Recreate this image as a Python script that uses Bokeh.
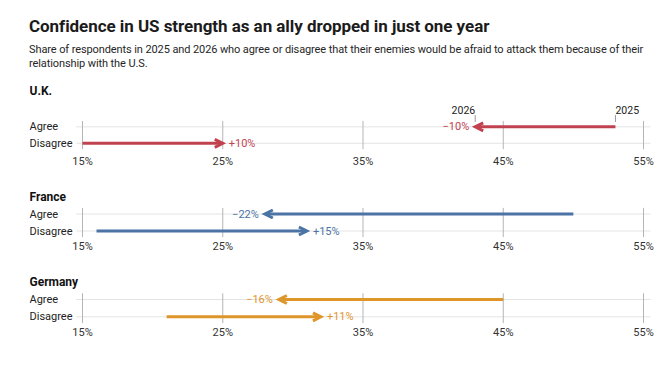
from bokeh.plotting import figure
from bokeh.models import (Div, Range1d, FixedTicker, PrintfTickFormatter,
                          Arrow, OpenHead, ColumnDataSource)
from bokeh.layouts import column
from bokeh.core.properties import value
from bokeh.embed import file_html
from bokeh.resources import INLINE

# ---------------- data ----------------
COUNTRIES = ["U.K.", "France", "Germany"]
RESPONSES = ["Agree", "Disagree"]
YEARS = ["2025", "2026"]
AGREE_2025 = [53, 50, 45]
AGREE_2026 = [43, 28, 29]
DISAGREE_2025 = [15, 16, 21]
DISAGREE_2026 = [25, 31, 32]
TICKS = [15, 25, 35, 45, 55]
COLORS = ["#c1424f", "#4b73a6", "#de962b"]

TITLE = "Confidence in US strength as an ally dropped in just one year"
SUB1 = ("Share of respondents in 2025 and 2026 who agree or disagree that their "
        "enemies would be afraid to attack them because of their")
SUB2 = "relationship with the U.S."

FONT = "Roboto"

# ---------------- layout constants ----------------
W = 658
BL, BR = 29, 5
FRAME_W = W - BL - BR
PX = 14.025                      # pixels per percentage point
X0 = TICKS[0] - (82 - 29) / PX   # frame left in data units
X1 = X0 + FRAME_W / PX

# per panel: (label row, min_border_top, frame height, min_border_bottom, standoff)
PANELS = [(-2.2, 4, 69, 24, 3), (-1.0, 13, 51, 21, 0), (-1.0, 13, 52, 21, 0)]

header = Div(
    text=(f'<div style="font-family:{FONT};white-space:nowrap;">'
          f'<div style="padding-top:16px;font-weight:700;font-size:17px;line-height:20px;'
          f'letter-spacing:-0.05px;color:#1b1b1b;">{TITLE}</div>'
          f'<div style="margin-top:7px;font-size:11px;line-height:13.5px;'
          f'letter-spacing:-0.1px;color:#262626;">{SUB1}<br>{SUB2}</div></div>'),
    width=W, height=78, margin=(0, 0, 0, 29))

figs = []
for i, country in enumerate(COUNTRIES):
    label_row, btop, fh, bbot, standoff = PANELS[i]
    col = COLORS[i]
    p = figure(width=W, height=btop + fh + bbot, output_backend="svg",
               toolbar_location=None, title=None,
               x_range=Range1d(X0, X1), y_range=Range1d(1.5, label_row - 0.5),
               y_axis_location=None, min_border_left=BL, min_border_right=BR,
               min_border_top=btop, min_border_bottom=bbot)
    p.outline_line_color = None
    p.grid.visible = False
    p.xaxis.ticker = FixedTicker(ticks=TICKS)
    p.xaxis.formatter = PrintfTickFormatter(format="%d%%")
    p.xaxis.axis_line_color = None
    p.xaxis.major_tick_line_color = None
    p.xaxis.minor_tick_line_color = None
    p.xaxis.major_tick_out = 0
    p.xaxis.major_label_standoff = standoff
    p.xaxis.major_label_text_font = FONT
    p.xaxis.major_label_text_font_size = "11px"
    p.xaxis.major_label_text_color = "#333333"

    rows = [RESPONSES.index(r) for r in RESPONSES]
    # row guide lines
    p.segment(x0=[TICKS[0] - 0.45] * len(rows), x1=[TICKS[-1] + 0.5] * len(rows),
              y0=rows, y1=rows, line_color="#e4e4e4", line_width=1)
    # vertical tick lines
    p.segment(x0=TICKS, x1=TICKS, y0=[rows[0] - 0.36] * len(TICKS),
              y1=[rows[-1] + 0.36] * len(TICKS), line_color="#b5b5b5", line_width=1)

    starts = [AGREE_2025[i], DISAGREE_2025[i]]
    ends = [AGREE_2026[i], DISAGREE_2026[i]]
    src = ColumnDataSource(dict(x0=starts, x1=ends, y=rows))
    p.add_layout(Arrow(end=OpenHead(size=8, line_color=col, line_width=3,
                                    line_join="miter"),
                       x_start="x0", y_start="y", x_end="x1", y_end="y",
                       source=src, line_color=col, line_width=3))

    # change labels
    for r, s, e in zip(rows, starts, ends):
        d = e - s
        txt = f"+{d}%" if d > 0 else f"\u2212{abs(d)}%"
        p.text(x=[e], y=[r], text=[txt], x_offset=6 if d > 0 else -6,
               text_align="left" if d > 0 else "right", text_baseline="middle",
               text_font=value(FONT), text_font_size="11px", text_color=col)

    # row labels
    p.text(x=[X0] * len(rows), y=rows, text=RESPONSES, text_align="left",
           text_baseline="middle", text_font=value(FONT), text_font_size="11px",
           text_color="#222222")
    # country label
    p.text(x=[X0], y=[label_row], text=[country], text_align="left",
           text_baseline="middle", text_font=value(FONT), text_font_size="12px",
           text_font_style="bold", text_color="#111111")

    if i == 0:
        # year annotations
        p.segment(x0=starts[:1] + ends[:1], x1=starts[:1] + ends[:1],
                  y0=[rows[0] - 0.72] * 2, y1=[rows[0] - 0.3] * 2,
                  line_color="#9a9a9a", line_width=1)
        p.text(x=[AGREE_2025[i]], y=[rows[0] - 1], text=[YEARS[0]],
               text_align="left", text_baseline="middle", text_font=value(FONT),
               text_font_size="10.5px", text_color="#222222")
        p.text(x=[AGREE_2026[i]], y=[rows[0] - 1], text=[YEARS[1]],
               text_align="right", text_baseline="middle", text_font=value(FONT),
               text_font_size="10.5px", text_color="#222222")
    figs.append(p)

layout = column(header, *figs, spacing=0)
open("out.html", "w").write(file_html(layout, INLINE))
